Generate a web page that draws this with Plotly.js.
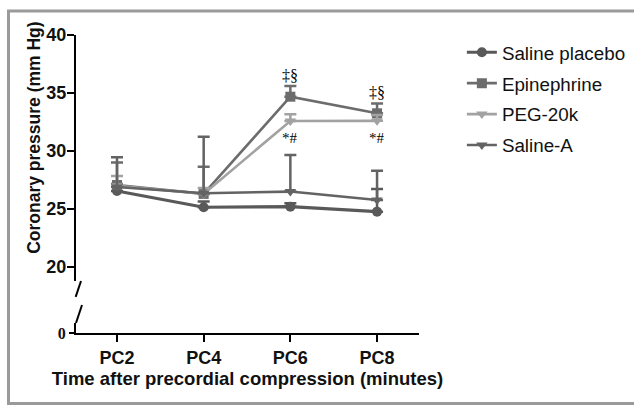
<!DOCTYPE html>
<html>
<head>
<meta charset="utf-8">
<script src="https://cdn.plot.ly/plotly-3.0.1.min.js"></script>
<style>html,body{margin:0;padding:0;background:#fff;}#chart{width:634px;height:407px;}</style>
</head>
<body>
<div id="chart"></div>
<script>
// ---- data ----
const categories = ["PC2", "PC4", "PC6", "PC8"];
const salinePlacebo = [26.55, 25.15, 25.2, 24.77];
const salinePlaceboErr = [0.6, 0.5, 0.3, 1.95];
const epinephrine = [27.07, 26.3, 34.68, 33.25];
const epinephrineErr = [1.93, 2.35, 0.92, 0.85];
const peg20k = [27.0, 26.3, 32.59, 32.6];
const peg20kErr = [0.84, 0.5, 0.57, 0.5];
const salineA = [26.9, 26.35, 26.5, 25.78];
const salineAErr = [2.56, 4.88, 3.16, 2.52];
const seriesNames = ["Saline placebo", "Epinephrine", "PEG-20k", "Saline-A"];
const epiMarks = ["‡§", "‡§"];
const pegMarks = ["*#", "*#"];
const markIdx = [2, 3];

const colors = ["#595959", "#6c6c6c", "#a2a2a2", "#636363"];
const symbols = ["circle", "square", "triangle-down", "triangle-down"];
const widths = [3.2, 2.6, 2.6, 2.6];
const vals = [salinePlacebo, epinephrine, peg20k, salineA];
const errs = [salinePlaceboErr, epinephrineErr, peg20kErr, salineAErr];

const traces = vals.map((v, i) => ({
  type: "scatter", mode: "lines+markers",
  x: categories, y: v, name: seriesNames[i], legendgroup: "g" + i,
  line: {color: colors[i], width: widths[i]},
  marker: {symbol: symbols[i], size: 10, color: colors[i]},
  error_y: {type: "data", array: errs[i], arrayminus: errs[i].map(() => 0), symmetric: false,
            color: colors[i], thickness: 2.5, width: 6},
  xaxis: "x", yaxis: "y", cliponaxis: false
}));
traces.push({type: "scatter", x: [], y: [], xaxis: "x", yaxis: "y2", showlegend: false, hoverinfo: "skip"});

const annotations = [];
markIdx.forEach((k, j) => {
  annotations.push({x: categories[k], y: epinephrine[k] + epinephrineErr[k], xref: "x", yref: "y",
    text: epiMarks[j], showarrow: false, yanchor: "bottom", yshift: 0,
    font: {family: "Liberation Serif, serif", size: 16, color: "#000"}});
  annotations.push({x: categories[k], y: peg20k[k], xref: "x", yref: "y",
    text: pegMarks[j], showarrow: false, yanchor: "top", yshift: -7,
    font: {family: "Liberation Serif, serif", size: 15, color: "#000"}});
});
annotations.push({x: -0.1225, y: 0.655, xref: "paper", yref: "paper", text: "Coronary pressure (mm Hg)",
  textangle: -90, showarrow: false, xanchor: "center", yanchor: "middle",
  font: {family: "Liberation Sans, Arial, sans-serif", size: 17.5, color: "#111", weight: "bold"}});

const shapes = [
  // figure frame
  {type: "rect", xref: "paper", yref: "paper", x0: -0.1968, x1: 1.66, y0: -0.2366, y1: 1.0805,
   line: {color: "#9a9a9a", width: 3}, fillcolor: "rgba(0,0,0,0)", layer: "below"},
  // axis break slashes
  {type: "line", xref: "paper", yref: "paper", x0: 0.0146, y0: 0.1745, x1: -0.001, y1: 0.121,
   line: {color: "#000", width: 2}},
  {type: "line", xref: "paper", yref: "paper", x0: 0.0175, y0: 0.094, x1: 0.0, y1: 0.0336,
   line: {color: "#000", width: 2}}
];

const tickFont = {family: "Liberation Sans, Arial, sans-serif", size: 18, color: "#111", weight: "bold"};

const layout = {
  width: 634, height: 407,
  margin: {l: 76, r: 215, t: 35, b: 74, autoexpand: false},
  paper_bgcolor: "#fff", plot_bgcolor: "#fff",
  showlegend: true,
  legend: {x: 1.125, y: 1.005, xanchor: "left", yanchor: "top", tracegroupgap: 3.5,
           font: {family: "Liberation Sans, Arial, sans-serif", size: 18.8, color: "#111"},
           itemwidth: 30, bgcolor: "rgba(0,0,0,0)"},
  xaxis: {type: "category", range: [-0.473, 3.484], anchor: "y2", automargin: false,
          showline: true, linecolor: "#000", linewidth: 2, mirror: false,
          ticks: "outside", ticklen: 7, tickwidth: 2, tickcolor: "#000",
          showgrid: false, zeroline: false, tickfont: tickFont,
          title: {text: "Time after precordial compression (minutes)", standoff: 2,
                  font: {family: "Liberation Sans, Arial, sans-serif", size: 18.5, color: "#111", weight: "bold"}}},
  yaxis: {domain: [0.1745, 1], range: [18.79, 40], anchor: "x", automargin: false,
          showline: true, linecolor: "#000", linewidth: 2,
          ticks: "outside", ticklen: 7, tickwidth: 2, tickcolor: "#000", ticklabelstandoff: -3,
          tickvals: [20, 25, 30, 35, 40], showgrid: false, zeroline: false, tickfont: tickFont},
  yaxis2: {domain: [0, 0.0336], range: [0, 1], anchor: "x", automargin: false,
           showline: true, linecolor: "#000", linewidth: 2,
           ticks: "outside", ticklen: 5, tickwidth: 2, tickcolor: "#000",
           tickvals: [0], showgrid: false, zeroline: false,
           tickfont: {family: "Liberation Serif, serif", size: 16, color: "#111", weight: "bold"}},
  annotations: annotations,
  shapes: shapes
};

Plotly.newPlot("chart", traces, layout, {displayModeBar: false, staticPlot: true});
</script>
</body>
</html>
